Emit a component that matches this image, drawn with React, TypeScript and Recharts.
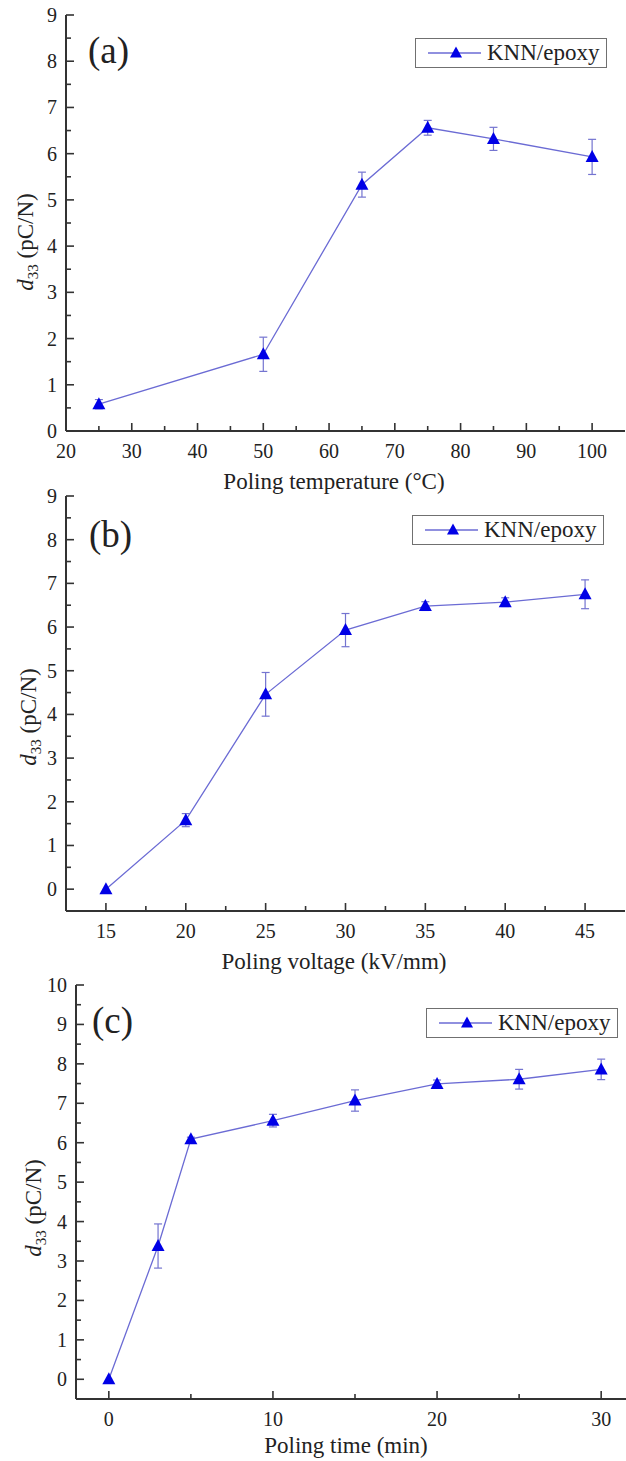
import React from 'react';
import { LineChart, Line, XAxis, YAxis, ErrorBar, Legend } from 'recharts';

const FONT = '"Liberation Serif", "Times New Roman", Times, serif';
const AXIS = '#333333';
const TEXT = '#222222';
const LINE = '#6b6bd4';
const ERR = '#7474d0';
const MARK = '#0000e6';

// (a) poling temperature
const tempC = [25, 50, 65, 75, 85, 100];
const d33Temp = [0.58, 1.66, 5.33, 6.56, 6.32, 5.93];
const errTemp = [0.1, 0.37, 0.27, 0.16, 0.25, 0.38];
const tempTicks = [20, 25, 30, 35, 40, 45, 50, 55, 60, 65, 70, 75, 80, 85, 90, 95, 100];
const tempLabels = [20, 30, 40, 50, 60, 70, 80, 90, 100];

// (b) poling voltage
const voltKV = [15, 20, 25, 30, 35, 40, 45];
const d33Volt = [0.0, 1.58, 4.46, 5.93, 6.48, 6.57, 6.75];
const errVolt = [0, 0.15, 0.5, 0.38, 0.1, 0.1, 0.33];
const voltTicks = [15, 17.5, 20, 22.5, 25, 27.5, 30, 32.5, 35, 37.5, 40, 42.5, 45];
const voltLabels = [15, 20, 25, 30, 35, 40, 45];

// (c) poling time
const timeMin = [0, 3, 5, 10, 15, 20, 25, 30];
const d33Time = [0.0, 3.38, 6.09, 6.56, 7.07, 7.49, 7.61, 7.86];
const errTime = [0, 0.56, 0.05, 0.16, 0.27, 0.1, 0.25, 0.26];
const timeTicks = [0, 5, 10, 15, 20, 25, 30];
const timeLabels = [0, 10, 20, 30];

// y axes
const yTicks9 = [0, 0.5, 1, 1.5, 2, 2.5, 3, 3.5, 4, 4.5, 5, 5.5, 6, 6.5, 7, 7.5, 8, 8.5, 9];
const yLabels9 = [0, 1, 2, 3, 4, 5, 6, 7, 8, 9];
const yTicks10 = [0, 0.5, 1, 1.5, 2, 2.5, 3, 3.5, 4, 4.5, 5, 5.5, 6, 6.5, 7, 7.5, 8, 8.5, 9, 9.5, 10];
const yLabels10 = [0, 1, 2, 3, 4, 5, 6, 7, 8, 9, 10];

const seriesName = 'KNN/epoxy';

const build = (xs: number[], ys: number[], es: number[]) =>
  xs.map((x, i) => ({ x, y: ys[i], err: es[i] }));

const XTick = (props: any) => {
  const { x, y, payload, labels } = props;
  const v = payload.value;
  const major = labels.includes(v);
  return (
    <g>
      <line x1={x} y1={y} x2={x} y2={y - (major ? 8 : 5)} stroke={AXIS} strokeWidth={1.6} />
      {major && (
        <text x={x} y={y + 27} textAnchor="middle" fontSize={20} fontFamily={FONT} fill={TEXT}>
          {v}
        </text>
      )}
    </g>
  );
};

const YTick = (props: any) => {
  const { x, y, payload, labels } = props;
  const v = payload.value;
  const major = labels.includes(v);
  return (
    <g>
      <line x1={x} y1={y} x2={x + (major ? 8 : 5)} y2={y} stroke={AXIS} strokeWidth={1.6} />
      {major && (
        <text x={x - 9} y={y} dy="0.35em" textAnchor="end" fontSize={20} fontFamily={FONT} fill={TEXT}>
          {v}
        </text>
      )}
    </g>
  );
};

const Tri = (props: any) => {
  const { cx, cy } = props;
  if (cx == null || cy == null) return null;
  return <path d={`M${cx},${cy - 7} L${cx + 6.5},${cy + 5} L${cx - 6.5},${cy + 5} Z`} fill={MARK} />;
};

const LegendBox = () => (
  <div
    style={{
      width: 192,
      height: 30,
      border: '1px solid #707070',
      boxSizing: 'border-box',
      background: '#fff',
      display: 'flex',
      alignItems: 'center',
      fontFamily: FONT,
    }}
  >
    <svg width={71} height={28} style={{ display: 'block' }}>
      <line x1={12} y1={14} x2={65} y2={14} stroke={LINE} strokeWidth={1.3} />
      <path d="M40,7.5 L46,18.5 L34,18.5 Z" fill={MARK} />
    </svg>
    <span style={{ fontSize: 23, color: TEXT, lineHeight: '28px' }}>{seriesName}</span>
  </div>
);

type PanelProps = {
  top: number;
  width: number;
  height: number;
  margin: { top: number; right: number; bottom: number; left: number };
  yWidth: number;
  xHeight: number;
  data: { x: number; y: number; err: number }[];
  xDomain: [number, number];
  xTicks: number[];
  xLabels: number[];
  yDomain: [number, number];
  yTicks: number[];
  yLabels: number[];
  xTitle: string;
  xTitlePos: [number, number];
  yTitlePos: [number, number];
  legendPos: [number, number];
  tag: string;
  tagPos: [number, number];
};

const Panel = (p: PanelProps) => {
  const xTitle = () => (
    <text x={p.xTitlePos[0]} y={p.xTitlePos[1]} dy="0.35em" textAnchor="middle" fontSize={23} fontFamily={FONT} fill={TEXT}>
      {p.xTitle}
    </text>
  );
  const yTitle = () => (
    <text
      transform={`translate(${p.yTitlePos[0]},${p.yTitlePos[1]}) rotate(-90)`}
      textAnchor="middle"
      dy="0.35em"
      fontSize={23}
      fontFamily={FONT}
      fill={TEXT}
    >
      <tspan fontStyle="italic">d</tspan>
      <tspan fontSize={15} dy={5}>33</tspan>
      <tspan dy={-5}> (pC/N)</tspan>
    </text>
  );
  return (
    <div style={{ position: 'absolute', left: 0, top: p.top, width: p.width, height: p.height }}>
      <LineChart width={p.width} height={p.height} data={p.data} margin={p.margin}>
        <XAxis
          dataKey="x"
          type="number"
          domain={p.xDomain}
          ticks={p.xTicks}
          interval={0}
          height={p.xHeight}
          tickSize={0}
          tickMargin={0}
          tickLine={false}
          axisLine={{ stroke: AXIS, strokeWidth: 2 }}
          tick={<XTick labels={p.xLabels} />}
          label={xTitle}
          allowDataOverflow
        />
        <XAxis
          xAxisId="top"
          orientation="top"
          type="number"
          domain={p.xDomain}
          height={0}
          tick={false}
          tickLine={false}
          axisLine={{ stroke: AXIS, strokeWidth: 2 }}
          allowDataOverflow
        />
        <YAxis
          type="number"
          domain={p.yDomain}
          ticks={p.yTicks}
          interval={0}
          width={p.yWidth}
          tickSize={0}
          tickMargin={0}
          tickLine={false}
          axisLine={{ stroke: AXIS, strokeWidth: 2 }}
          tick={<YTick labels={p.yLabels} />}
          label={yTitle}
          allowDataOverflow
        />
        <YAxis
          yAxisId="right"
          orientation="right"
          type="number"
          domain={p.yDomain}
          width={0}
          tick={false}
          tickLine={false}
          axisLine={{ stroke: AXIS, strokeWidth: 2 }}
          allowDataOverflow
        />
        <Legend
          layout="vertical"
          align="center"
          verticalAlign="middle"
          wrapperStyle={{ left: p.legendPos[0], top: p.legendPos[1], width: 192, height: 30 }}
          content={() => <LegendBox />}
        />
        <Line
          dataKey="y"
          name={seriesName}
          type="linear"
          stroke={LINE}
          strokeWidth={1.3}
          dot={<Tri />}
          activeDot={false}
          isAnimationActive={false}
        >
          <ErrorBar dataKey="err" direction="y" width={4} stroke={ERR} strokeWidth={1.2} isAnimationActive={false} />
        </Line>
      </LineChart>
      <svg
        width={200}
        height={100}
        style={{ position: 'absolute', left: 0, top: 0, pointerEvents: 'none' }}
      >
        <text x={p.tagPos[0]} y={p.tagPos[1]} fontSize={37} fontFamily={FONT} fill={TEXT}>
          {p.tag}
        </text>
      </svg>
    </div>
  );
};

export default function App() {
  return (
    <div
      style={{
        position: 'absolute',
        left: 0,
        top: 0,
        width: 626,
        height: 1461,
        overflow: 'hidden',
        background: '#fff',
      }}
    >
      <Panel
        top={0}
        width={626}
        height={500}
        margin={{ top: 15, right: 1, bottom: 0, left: 0 }}
        yWidth={66}
        xHeight={69}
        data={build(tempC, d33Temp, errTemp)}
        xDomain={[20, 105]}
        xTicks={tempTicks}
        xLabels={tempLabels}
        yDomain={[0, 9]}
        yTicks={yTicks9}
        yLabels={yLabels9}
        xTitle="Poling temperature (°C)"
        xTitlePos={[334, 481]}
        yTitlePos={[25, 242]}
        legendPos={[415, 38]}
        tag="(a)"
        tagPos={[88, 63]}
      />
      <Panel
        top={480}
        width={626}
        height={500}
        margin={{ top: 16, right: 1, bottom: 0, left: 0 }}
        yWidth={66}
        xHeight={69}
        data={build(voltKV, d33Volt, errVolt)}
        xDomain={[12.5, 47.5]}
        xTicks={voltTicks}
        xLabels={voltLabels}
        yDomain={[-0.5, 9]}
        yTicks={yTicks9}
        yLabels={yLabels9}
        xTitle="Poling voltage (kV/mm)"
        xTitlePos={[334, 481]}
        yTitlePos={[28, 237]}
        legendPos={[412, 35]}
        tag="(b)"
        tagPos={[89, 67]}
      />
      <Panel
        top={960}
        width={640}
        height={501}
        margin={{ top: 25, right: 6, bottom: 0, left: 0 }}
        yWidth={76}
        xHeight={62}
        data={build(timeMin, d33Time, errTime)}
        xDomain={[-2, 32]}
        xTicks={timeTicks}
        xLabels={timeLabels}
        yDomain={[-0.5, 10]}
        yTicks={yTicks10}
        yLabels={yLabels10}
        xTitle="Poling time (min)"
        xTitlePos={[346, 485]}
        yTitlePos={[33, 248]}
        legendPos={[426, 48]}
        tag="(c)"
        tagPos={[92, 73]}
      />
    </div>
  );
}
